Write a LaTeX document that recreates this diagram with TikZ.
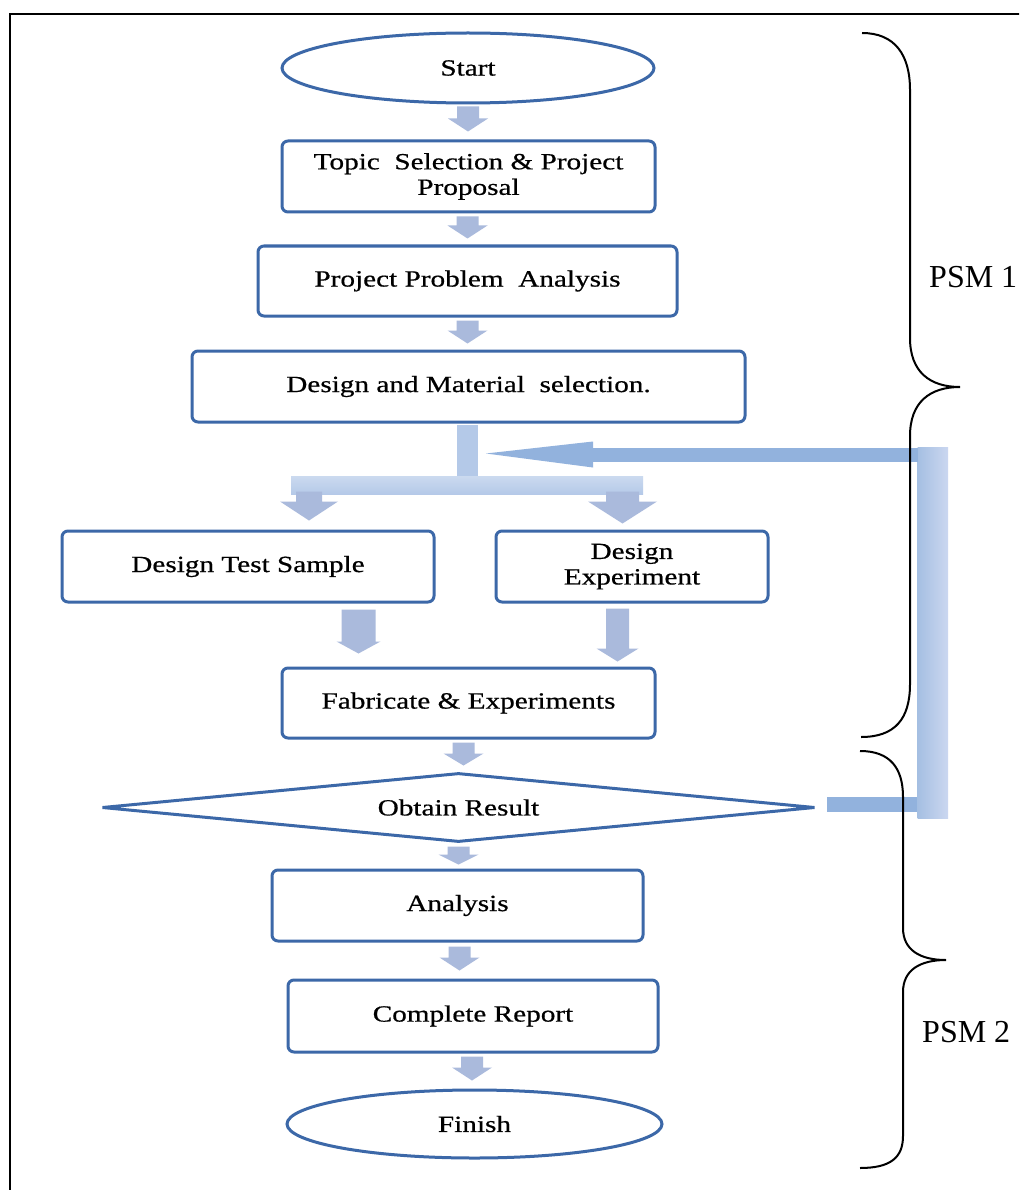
\documentclass[tikz,border=0pt]{standalone}
\usepackage{fontspec}
\setmainfont{Liberation Serif}
\newfontfamily\boxfont[FakeStretch=1.26,FakeBold=0.6]{Liberation Serif}
\usetikzlibrary{shapes.geometric,calc}

\definecolor{boxblue}{RGB}{60,104,168}
\definecolor{arrowfill}{RGB}{170,186,220}
\definecolor{barfill}{RGB}{180,201,232}
\definecolor{fbfill}{RGB}{146,178,221}
\definecolor{fbleft}{RGB}{165,191,226}
\definecolor{fbright}{RGB}{203,215,240}

\tikzset{
  flowbox/.style={draw=boxblue, line width=3pt, rounded corners=6pt, fill=white,
    align=center, font=\boxfont\fontsize{23.2}{25.5}\selectfont, inner sep=0pt},
  terminal/.style={flowbox, ellipse, sharp corners},
  decision/.style={flowbox, diamond, aspect=10, sharp corners},
  blk/.style={fill=arrowfill},
  bracepath/.style={draw=black, line width=2pt},
  psm/.style={font=\fontsize{32}{36}\selectfont, anchor=base west, inner sep=0pt},
}

% block arrow from #1 (top centre) down to #2 (tip); #3 shaft half width, #4 head half width, #5 head length
\newcommand\blkarrow[5]{%
  \fill[blk] ($#1+(-#3,0)$) -- ($#1+(#3,0)$) -- ($#2+(#3,-#5)$) -- ($#2+(#4,-#5)$)
    -- #2 -- ($#2+(-#4,-#5)$) -- ($#2+(-#3,-#5)$) -- cycle;}

\begin{document}
\begin{tikzpicture}[x=1pt,y=-1pt]
\clip (0,0) rectangle (1019,1190);
\fill[white] (0,0) rectangle (1019,1190);
\draw[line width=2pt] (10,1200) -- (10,14) -- (1030,14);

% nodes
\node[terminal, minimum width=372pt, minimum height=70pt] (start) at (468,68) {Start};
\node[flowbox, minimum width=373pt, minimum height=71pt] (topic) at (468.5,176.5) {Topic\ \ Selection \& Project\\Proposal};
\node[flowbox, minimum width=419pt, minimum height=70pt] (prob) at (467.5,281) {Project Problem\ \ Analysis};
\node[flowbox, minimum width=553pt, minimum height=71pt] (design) at (468.5,386.5) {Design and Material\ \ selection.};
\node[flowbox, minimum width=372pt, minimum height=71pt] (sample) at (248,566.5) {Design Test Sample};
\node[flowbox, minimum width=272pt, minimum height=71pt] (exper) at (632,566.5) {Design\\Experiment};
\node[flowbox, minimum width=373pt, minimum height=70pt] (fab) at (468.5,703) {Fabricate \& Experiments};
\node[decision, minimum width=713pt, minimum height=69pt] (result) at (458.5,807.5) {Obtain Result};
\node[flowbox, minimum width=371pt, minimum height=71pt] (analysis) at (457.5,905.5) {Analysis};
\node[flowbox, minimum width=370pt, minimum height=72pt] (report) at (473,1016) {Complete Report};
\node[terminal, minimum width=375pt, minimum height=68pt] (finish) at (474.5,1124) {Finish};

% simple block arrows
\coordinate (a1) at ($(start.south)+(0,2)$);
\coordinate (a1t) at ($(a1 |- topic.north)+(0,-8)$);
\blkarrow{(a1)}{(a1t)}{11}{20}{13}
\coordinate (a2) at ($(topic.south)+(-1,3)$);
\coordinate (a2t) at ($(a2 |- prob.north)+(0,-6)$);
\blkarrow{(a2)}{(a2t)}{11}{20}{13}
\coordinate (a3) at ($(prob.south)+(0,3)$);
\coordinate (a3t) at ($(a3 |- design.north)+(0,-6)$);
\blkarrow{(a3)}{(a3t)}{11}{20}{13}
\coordinate (a4) at ($(fab.south)+(-5,3)$);
\coordinate (a4t) at ($(a4 |- result.north)+(0,-6)$);
\blkarrow{(a4)}{(a4t)}{11}{20}{12}
\coordinate (a5) at ($(result.south)+(0,3)$);
\coordinate (a5t) at ($(a5 |- analysis.north)+(0,-4)$);
\blkarrow{(a5)}{(a5t)}{11}{20}{10}
\coordinate (a6) at ($(analysis.south)+(2,4)$);
\coordinate (a6t) at ($(a6 |- report.north)+(0,-8)$);
\blkarrow{(a6)}{(a6t)}{11}{20}{13}
\coordinate (a7) at ($(report.south)+(-1,3)$);
\coordinate (a7t) at ($(a7 |- finish.north)+(0,-8)$);
\blkarrow{(a7)}{(a7t)}{11}{20}{13}

% fork below design
\fill[barfill] ($(design.south)+(-11.5,1.5)$) rectangle ($(design.south)+(9.5,53)$);
\shade[top color=barfill!70, bottom color=barfill] ($(design.south)+(-177.5,53)$) rectangle ($(design.south)+(174.5,71)$);
\coordinate (b1) at ($(sample.north)+(61,-38)$);
\coordinate (b1t) at ($(sample.north)+(61,-9)$);
\blkarrow{(b1)}{(b1t)}{13}{29}{19}
\coordinate (b2) at ($(exper.north)+(-9.5,-38)$);
\coordinate (b2t) at ($(exper.north)+(-9.5,-6)$);
\blkarrow{(b2)}{(b2t)}{16.5}{34.5}{22}

% arrows into fabricate
\coordinate (c1) at ($(sample.south)+(110.5,6)$);
\coordinate (c1t) at ($(c1 |- fab.north)+(0,-13)$);
\blkarrow{(c1)}{(c1t)}{17}{22}{12}
\coordinate (c2) at ($(exper.south)+(-14.5,5)$);
\coordinate (c2t) at ($(c2 |- fab.north)+(0,-5)$);
\blkarrow{(c2)}{(c2t)}{11.5}{21}{13}

% feedback loop from result back to the fork
\coordinate (fb0) at ($(result.east)+(10,0)$);
\coordinate (fbtip) at ($(design.south)+(17.5,30)$);
\fill[fbfill] ($(fb0)+(0,-10.5)$) rectangle ($(fb0)+(93,4.5)$);
\shade[left color=fbleft, right color=fbright] ($(fb0)+(91,10.5)$) rectangle ($(fbtip)+(462,-6)$);
\fill[fbfill] ($(fbtip)+(107,-6)$) rectangle ($(fbtip)+(432,8)$);
\fill[fbfill] ($(fbtip)+(107,-12)$) -- ($(fbtip)+(107,14)$) -- (fbtip) -- cycle;

% braces
\draw[bracepath] (862,33) .. controls (895,33) and (910,55) .. (910,90) -- (910,338)
  .. controls (910,372) and (930,387) .. (960,387)
  .. controls (930,387) and (910,402) .. (910,436) -- (910,684)
  .. controls (910,719) and (895,737) .. (861,737);
\draw[bracepath] (860,751) .. controls (890,751) and (903,768) .. (903,797) -- (903,928)
  .. controls (903,950) and (920,960) .. (946,960)
  .. controls (920,960) and (903,970) .. (903,992) -- (903,1136)
  .. controls (903,1158) and (890,1168) .. (860,1168);

\node[psm] (psm1) at (929,287) {PSM 1};
\node[psm] (psm2) at (922,1042) {PSM 2};
\end{tikzpicture}
\end{document}
